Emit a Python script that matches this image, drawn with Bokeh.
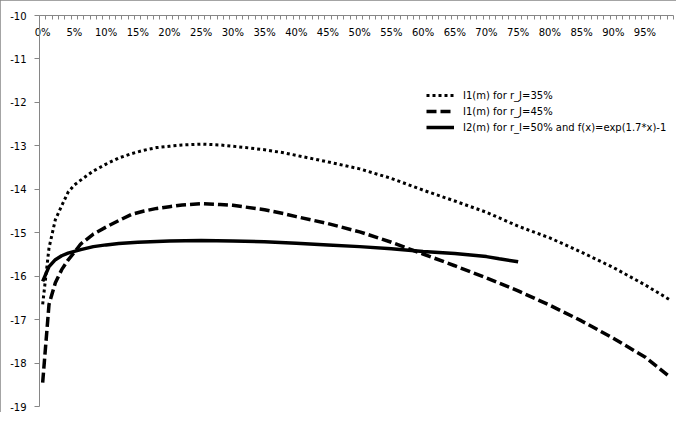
from bokeh.plotting import figure
from bokeh.models import LinearAxis, FixedTicker, Range1d, Legend, LegendItem
from bokeh.embed import file_html
from bokeh.resources import INLINE

# ---------------- data (x in percent, y values) ----------------
x_j35 = [0, 1, 2, 3, 4, 5, 6, 8, 10, 12, 14, 16, 18, 20, 22, 25, 28, 30, 32, 35,
         38, 40, 45, 50, 55, 60, 65, 70, 75, 80, 85, 90, 95, 99]
y_j35 = [-16.65, -15.35, -14.70, -14.38, -14.07, -13.90, -13.79, -13.58, -13.42,
         -13.28, -13.18, -13.10, -13.04, -13.01, -12.98, -12.96, -12.98, -13.01,
         -13.04, -13.09, -13.16, -13.22, -13.37, -13.53, -13.75, -14.02, -14.27,
         -14.53, -14.85, -15.12, -15.45, -15.80, -16.20, -16.55]

x_j45 = [0, 1, 2, 3, 4, 5, 6, 8, 10, 12, 14, 16, 18, 20, 22, 25, 28, 30, 35, 38,
         40, 45, 50, 55, 60, 65, 70, 75, 80, 85, 90, 95, 99]
y_j45 = [-18.45, -16.65, -16.15, -15.85, -15.63, -15.45, -15.26, -15.03, -14.87,
         -14.72, -14.58, -14.50, -14.44, -14.40, -14.36, -14.33, -14.35, -14.37,
         -14.47, -14.56, -14.63, -14.79, -14.98, -15.22, -15.49, -15.76, -16.04,
         -16.34, -16.67, -17.03, -17.43, -17.86, -18.33]

x_i2 = [0, 1, 2, 3, 4, 5, 6, 8, 10, 12, 15, 20, 25, 30, 35, 40, 45, 50, 55, 60,
        65, 70, 72, 75]
y_i2 = [-16.12, -15.78, -15.62, -15.53, -15.47, -15.43, -15.39, -15.32, -15.28,
        -15.25, -15.22, -15.19, -15.18, -15.19, -15.21, -15.24, -15.28, -15.32,
        -15.37, -15.43, -15.48, -15.55, -15.60, -15.67]

labels = ["I1(m) for r_J=35%", "I1(m) for r_J=45%",
          "I2(m) for r_I=50% and f(x)=exp(1.7*x)-1"]

x_label_pos = [0, 5, 10, 15, 20, 25, 30, 35, 40, 45, 50, 55, 60, 65, 70, 75, 80,
               85, 90, 95]
x_label_txt = ["0%", "5%", "10%", "15%", "20%", "25%", "30%", "35%", "40%", "45%",
               "50%", "55%", "60%", "65%", "70%", "75%", "80%", "85%", "90%", "95%"]
y_ticks = [-19, -18, -17, -16, -15, -14, -13, -12, -11, -10]
y_tick_txt = ["-19", "-18", "-17", "-16", "-15", "-14", "-13", "-12", "-11", "-10"]
n_categories = 100

# ---------------- figure ----------------
FONT = "DejaVu Sans"
GRAY = "#868686"

p = figure(width=676, height=412, output_backend="svg", toolbar_location=None,
           x_axis_location=None, y_axis_location="left",
           x_range=Range1d(-0.5, n_categories - 0.5), y_range=Range1d(-19, -10),
           min_border_left=39, min_border_right=3, min_border_top=15,
           min_border_bottom=6)
p.outline_line_color = None
p.grid.visible = False
p.background_fill_color = "white"
p.border_fill_color = "white"
p.styles = {"outline": "1px solid " + GRAY, "outline-offset": "-1px"}

# y axis
ya = p.yaxis[0]
ya.ticker = FixedTicker(ticks=y_ticks)
ya.major_label_overrides = {t: s for t, s in zip(y_ticks, y_tick_txt)}
ya.minor_tick_line_color = None
ya.major_tick_in = 0
ya.major_tick_out = 5
ya.axis_line_color = GRAY
ya.major_tick_line_color = GRAY
ya.major_label_standoff = 8
ya.major_label_text_font = FONT
ya.major_label_text_font_size = "10px"
ya.major_label_text_color = "black"

# top category axis: tick marks between categories, labels under the axis line
xa = LinearAxis(ticker=FixedTicker(ticks=x_label_pos,
                                   minor_ticks=[i - 0.5 for i in range(n_categories + 1)]))
xa.major_label_overrides = {t: s for t, s in zip(x_label_pos, x_label_txt)}
xa.major_tick_line_color = None
xa.major_tick_in = 0
xa.major_tick_out = 0
xa.minor_tick_in = 4
xa.minor_tick_out = 0
xa.minor_tick_line_color = GRAY
xa.axis_line_color = GRAY
xa.major_label_standoff = -22
xa.major_label_text_font = FONT
xa.major_label_text_font_size = "10px"
xa.major_label_text_color = "black"
p.add_layout(xa, "above")

# series
r1 = p.line(x_j35, y_j35, line_color="black", line_width=3, line_dash="3 3")
r2 = p.line(x_j45, y_j45, line_color="black", line_width=3.5, line_dash="10 4")
r3 = p.line(x_i2, y_i2, line_color="black", line_width=3.5)

legend = Legend(items=[LegendItem(label=labels[0], renderers=[r1]),
                       LegendItem(label=labels[1], renderers=[r2]),
                       LegendItem(label=labels[2], renderers=[r3])],
                location=(387, 271), padding=0, margin=0, spacing=0,
                label_height=16, glyph_height=16, glyph_width=28,
                label_standoff=9, border_line_color=None,
                background_fill_alpha=0, label_text_font=FONT,
                label_text_font_size="10px", label_text_color="black")
p.add_layout(legend)

open("out.html", "w").write(file_html(p, INLINE))
